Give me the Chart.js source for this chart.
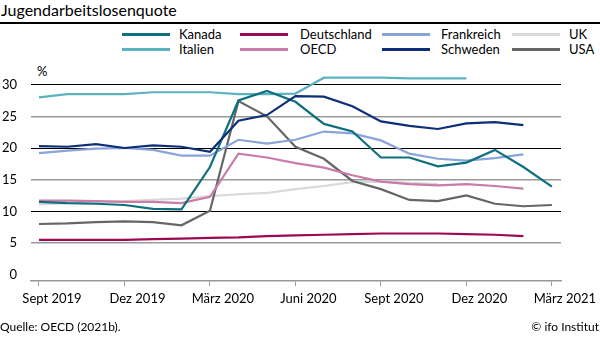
<!DOCTYPE html>
<html>
<head>
<meta charset="utf-8">
<script src="https://cdn.jsdelivr.net/npm/chart.js@4"></script>
<style>
  html, body { margin: 0; padding: 0; background: #fff; }
  #wrap { position: relative; width: 600px; height: 338px; overflow: hidden; font-family: Lato, "Noto Sans", sans-serif; color: #000; }
  #title { position: absolute; left: 1px; top: 0px; font-size: 16px; line-height: 20px; }
  #rule { position: absolute; left: 0; top: 22px; width: 600px; height: 2px; background: #000; }
  #pct { position: absolute; left: 37px; top: 63px; font-size: 13px; line-height: 16px; }
  .lg { position: absolute; font-size: 13px; line-height: 16px; white-space: nowrap; }
  .lgline { position: absolute; height: 3px; }
  #src { position: absolute; left: 0; top: 319px; font-size: 12px; line-height: 16px; }
  #copy { position: absolute; right: 1px; top: 319px; font-size: 12px; line-height: 16px; }
  canvas { position: absolute; left: 0; top: 0; }
</style>
</head>
<body>
<div id="wrap">
  <div id="title">Jugendarbeitslosenquote</div>
  <div id="rule"></div>
  <div id="legend"></div>
  <div id="pct">%</div>
  <canvas id="c" width="600" height="338"></canvas>
  <div id="src">Quelle: OECD (2021b).</div>
  <div id="copy">© ifo Institut</div>
</div>
<script>
// Monthly values Sept 2019 .. März 2021 (19 months)
const months = ["Sept 2019","Okt 2019","Nov 2019","Dez 2019","Jan 2020","Feb 2020","März 2020","Apr 2020","Mai 2020","Juni 2020","Juli 2020","Aug 2020","Sept 2020","Okt 2020","Nov 2020","Dez 2020","Jan 2021","Feb 2021","März 2021"];
const tickPositions = [0, 3, 6, 9, 12, 15, 18];
const tickLabels = ["Sept 2019","Dez 2019","März 2020","Juni 2020","Sept 2020","Dez 2020","März 2021"];
const yTicks = [0, 5, 10, 15, 20, 25, 30];

const kanada      = [11.5, 11.3, 11.2, 11.0, 10.4, 10.3, 17.0, 27.5, 29.0, 27.3, 23.8, 22.6, 18.5, 18.5, 17.1, 17.7, 19.7, 17.0, 13.9];
const deutschland = [5.5, 5.5, 5.5, 5.5, 5.6, 5.7, 5.8, 5.9, 6.1, 6.2, 6.3, 6.4, 6.5, 6.5, 6.5, 6.4, 6.3, 6.1, null];
const frankreich  = [19.2, 19.6, 19.9, 20.0, 19.7, 18.8, 18.8, 21.3, 20.7, 21.3, 22.6, 22.3, 21.2, 19.1, 18.3, 18.0, 18.4, 19.0, null];
const uk          = [11.1, 11.3, 11.5, 11.6, 11.8, 12.0, 12.4, 12.7, 12.9, 13.5, 14.0, 14.6, 14.7, 14.5, 14.3, null, null, null, null];
const italien     = [28.0, 28.5, 28.5, 28.5, 28.8, 28.8, 28.8, 28.5, 28.5, 28.6, 31.1, 31.1, 31.1, 31.0, 31.0, 31.0, null, null, null];
const oecd        = [11.7, 11.7, 11.6, 11.5, 11.5, 11.3, 12.3, 19.1, 18.5, 17.6, 16.9, 15.7, 14.7, 14.3, 14.1, 14.3, 14.0, 13.6, null];
const schweden    = [20.3, 20.2, 20.6, 20.0, 20.4, 20.2, 19.4, 24.3, 25.2, 28.2, 28.1, 26.6, 24.2, 23.5, 23.0, 23.9, 24.1, 23.6, null];
const usa         = [8.0, 8.1, 8.3, 8.4, 8.3, 7.8, 10.1, 27.4, 25.0, 20.2, 18.3, 14.8, 13.5, 11.8, 11.6, 12.5, 11.2, 10.8, 11.0];

const series = [
  { label: "Kanada",      data: kanada,      color: "#0f6f7d", order: 2 },
  { label: "Deutschland", data: deutschland, color: "#9b0a52", order: 3 },
  { label: "Frankreich",  data: frankreich,  color: "#88a4d9", order: 4 },
  { label: "UK",          data: uk,          color: "#d9d9d9", order: 9 },
  { label: "Italien",     data: italien,     color: "#5cb3bf", order: 5 },
  { label: "OECD",        data: oecd,        color: "#c97ba9", order: 6 },
  { label: "Schweden",    data: schweden,    color: "#0e2f78", order: 1 },
  { label: "USA",         data: usa,         color: "#666666", order: 7 }
];

// Legend (4 columns x 2 rows)
const legendCols = [ {line: 122, text: 179}, {line: 240, text: 300}, {line: 382, text: 441}, {line: 512, text: 569} ];
const legendRows = [34, 49];
const lg = document.getElementById('legend');
series.forEach((s, i) => {
  const col = legendCols[i % 4], row = legendRows[Math.floor(i / 4)];
  const ln = document.createElement('div');
  ln.className = 'lgline';
  ln.style.left = col.line + 'px'; ln.style.width = '48px';
  ln.style.top = (row - 1.5) + 'px'; ln.style.background = s.color;
  lg.appendChild(ln);
  const tx = document.createElement('div');
  tx.className = 'lg';
  tx.style.left = col.text + 'px'; tx.style.top = (row - 8) + 'px';
  tx.textContent = s.label;
  lg.appendChild(tx);
});

const datasets = series.map(s => ({
  label: s.label,
  data: s.data.map((v, i) => ({ x: i, y: v })),
  borderColor: s.color,
  backgroundColor: s.color,
  borderWidth: 2.2,
  pointRadius: 0,
  tension: 0,
  spanGaps: false,
  order: s.order
}));

new Chart(document.getElementById('c'), {
  type: 'line',
  data: { datasets },
  options: {
    responsive: false,
    animation: false,
    devicePixelRatio: 1,
    layout: { padding: { left: 0, right: 39, top: 72, bottom: 0 } },
    plugins: { legend: { display: false }, tooltip: { enabled: false }, title: { display: false } },
    scales: {
      x: {
        type: 'linear',
        min: -0.28,
        max: 18.32,
        afterBuildTicks: (scale) => { scale.ticks = tickPositions.map(v => ({ value: v })); },
        afterFit: (scale) => { scale.height = 57; },
        ticks: {
          autoSkip: false,
          maxRotation: 0,
          padding: 5,
          labelOffset: 13,
          color: '#000',
          font: { family: 'Lato', size: 13 },
          callback: (v) => tickLabels[tickPositions.indexOf(v)]
        },
        grid: { display: true, drawOnChartArea: false, drawTicks: true, tickLength: 5, color: '#999', lineWidth: 1 },
        border: { display: true, color: '#999', width: 1.5 }
      },
      y: {
        min: -1,
        max: 32,
        afterBuildTicks: (scale) => { scale.ticks = yTicks.map(v => ({ value: v })); },
        afterFit: (scale) => { scale.width = 31; },
        ticks: {
          padding: 14,
          color: '#000',
          font: { family: 'Lato', size: 13 }
        },
        grid: {
          drawTicks: false,
          lineWidth: (ctx) => (ctx.tick && ctx.tick.value % 10 === 0) ? 1 : 1.5,
          color: (ctx) => {
            const v = ctx.tick ? ctx.tick.value : null;
            if (v === 0) return 'rgba(0,0,0,0)';
            return (v % 10 === 0) ? '#000' : '#999';
          }
        },
        border: { display: false }
      }
    }
  }
});
</script>
</body>
</html>
